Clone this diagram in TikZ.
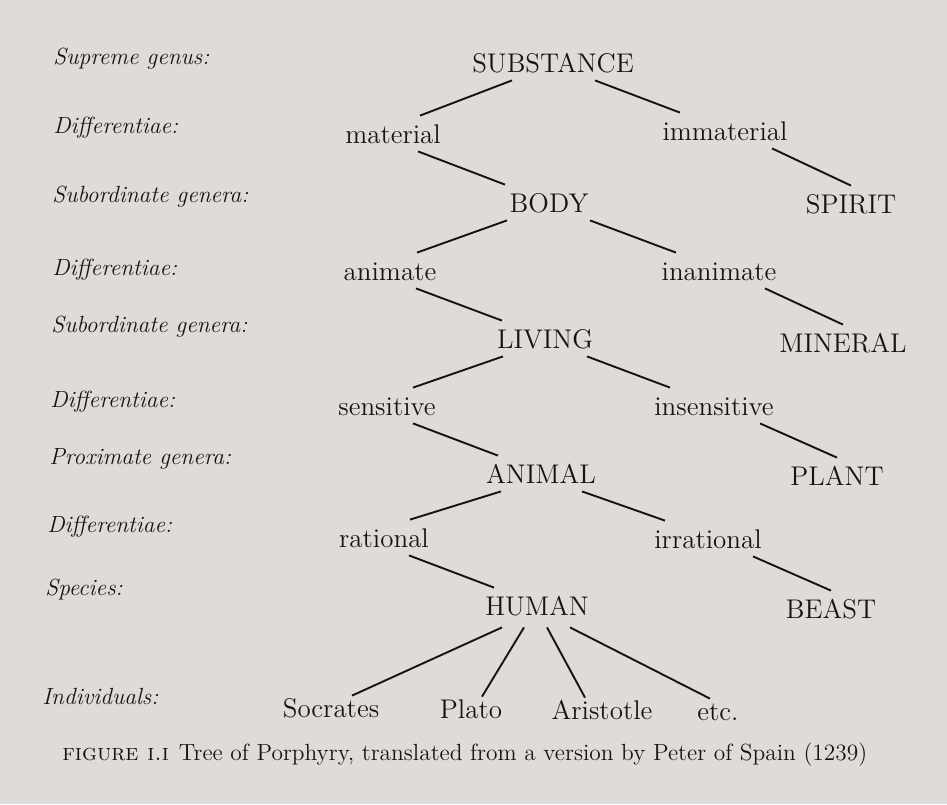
\documentclass[tikz,border=0pt]{standalone}
\usepackage{tikz}
\usepackage{xcolor}
\definecolor{paper}{RGB}{222,219,216}
\definecolor{ink}{RGB}{22,19,17}

\begin{document}
\begin{tikzpicture}[x=0.5pt, y=-0.5pt,
  every node/.style={text=ink, inner sep=0pt},
  term/.style={font=\fontsize{13.5}{16}\selectfont, anchor=base, text height=9.5pt, text depth=0pt, inner xsep=2pt, inner ysep=4pt},
  leaf/.style={term, inner ysep=1pt},
  rank/.style={font=\fontsize{11.7}{14}\selectfont\itshape, anchor=base west},
  branch/.style={draw=ink, line width=0.95pt}]
  % page
  \fill[paper] (0,0) rectangle (947,804);
  % level names
  \node[rank] (r1) at (53,64) {Supreme genus:};
  \node[rank] (r2) at (53,133) {Differentiae:};
  \node[rank] (r3) at (52,202) {Subordinate genera:};
  \node[rank] (r4) at (52,275) {Differentiae:};
  \node[rank] (r5) at (51,332) {Subordinate genera:};
  \node[rank] (r6) at (50,407) {Differentiae:};
  \node[rank] (r7) at (49,464) {Proximate genera:};
  \node[rank] (r8) at (47,532) {Differentiae:};
  \node[rank] (r9) at (45,595) {Species:};
  \node[rank] (r10) at (42,704) {Individuals:};
  % tree terms
  \node[term] (sub) at (553,72) {SUBSTANCE};
  \node[term] (mat) at (393,143) {material};
  \node[term] (imm) at (725,140) {immaterial};
  \node[term] (body) at (549,212) {BODY};
  \node[term] (spi) at (851,213) {SPIRIT};
  \node[term] (ani) at (390,280) {animate};
  \node[term] (inan) at (719,280) {inanimate};
  \node[term] (liv) at (545,348) {LIVING};
  \node[term] (min) at (843,352) {MINERAL};
  \node[term] (sen) at (387,415) {sensitive};
  \node[term] (insen) at (714,415) {insensitive};
  \node[term] (anim) at (541,483) {ANIMAL};
  \node[term] (pla) at (837,485) {PLANT};
  \node[term] (rat) at (384,547) {rational};
  \node[term] (irr) at (708,548) {irrational};
  \node[term] (hum) at (537,615) {HUMAN};
  \node[term] (bea) at (831,618) {BEAST};
  % individuals
  \node[leaf] (soc) at (331,717) {Socrates};
  \node[leaf] (plato) at (471,718) {Plato};
  \node[leaf] (ari) at (602,719) {Aristotle};
  \node[leaf] (etc) at (718,720) {etc.};
  % branches
  \draw[branch] ([xshift=-20.5pt]sub.south) -- ([xshift=13.5pt]mat.north);
  \draw[branch] ([xshift=21pt]sub.south) -- ([xshift=-22.5pt]imm.north);
  \draw[branch] ([xshift=12.5pt]mat.south) -- ([xshift=-22pt]body.north);
  \draw[branch] ([xshift=23.5pt]imm.south) -- (spi.north);
  \draw[branch] ([xshift=-21pt]body.south) -- ([xshift=13.5pt]ani.north);
  \draw[branch] ([xshift=20.5pt]body.south) -- ([xshift=-21.5pt]inan.north);
  \draw[branch] ([xshift=13pt]ani.south) -- ([xshift=-21.5pt]liv.north);
  \draw[branch] ([xshift=23pt]inan.south) -- (min.north);
  \draw[branch] ([xshift=-21pt]liv.south) -- ([xshift=13pt]sen.north);
  \draw[branch] ([xshift=21pt]liv.south) -- ([xshift=-22pt]insen.north);
  \draw[branch] ([xshift=13pt]sen.south) -- ([xshift=-21.5pt]anim.north);
  \draw[branch] ([xshift=23pt]insen.south) -- (pla.north);
  \draw[branch] ([xshift=-20pt]anim.south) -- ([xshift=13pt]rat.north);
  \draw[branch] ([xshift=20.5pt]anim.south) -- ([xshift=-21.5pt]irr.north);
  \draw[branch] ([xshift=12.5pt]rat.south) -- ([xshift=-21.5pt]hum.north);
  \draw[branch] ([xshift=22.5pt]irr.south) -- (bea.north);
  \draw[branch] ([xshift=-17.5pt,yshift=-2pt]hum.south) -- ([xshift=10.5pt]soc.north);
  \draw[branch] ([xshift=-6.5pt,yshift=-2pt]hum.south) -- ([xshift=5.5pt]plato.north);
  \draw[branch] ([xshift=5pt,yshift=-2pt]hum.south) -- ([xshift=-8.5pt]ari.north);
  \draw[branch] ([xshift=16.5pt,yshift=-2pt]hum.south) -- ([xshift=-4pt]etc.north);
  % caption
  \node[font=\fontsize{11.7}{14}\selectfont, anchor=base west] (cap) at (62,760) {\textsc{figure i.i}\hspace{5pt}Tree of Porphyry, translated from a version by Peter of Spain (1239)};
\end{tikzpicture}
\end{document}
